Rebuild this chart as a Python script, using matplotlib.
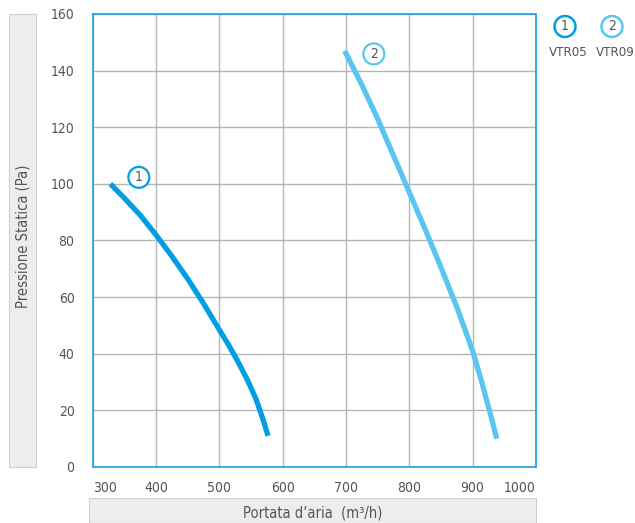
import matplotlib.pyplot as plt
from matplotlib.patches import Rectangle

plt.rcParams['font.family'] = ['DejaVu Sans']
plt.rcParams['font.stretch'] = 'condensed'

# Dati
x_vtr05 = [328, 350, 375, 400, 425, 450, 475, 500, 515, 530, 545, 558, 569, 577]
y_vtr05 = [100, 95, 89, 82, 74.5, 66.5, 57.8, 48.5, 43, 37, 30.5, 24, 16.8, 11]

x_vtr09 = [698, 725, 750, 775, 800, 825, 850, 875, 900, 915, 930, 938]
y_vtr09 = [147, 135, 123, 110, 97, 84, 70.5, 56.5, 41, 29.5, 17, 10]

names = ["VTR05", "VTR09"]
numbers = ["1", "2"]
colors = ["#009fe3", "#5bc5f1"]

x_ticks = [300, 400, 500, 600, 700, 800, 900, 1000]
y_ticks = [0, 20, 40, 60, 80, 100, 120, 140, 160]

fig = plt.figure(figsize=(6.35, 5.23), dpi=100)
ax = fig.add_axes([92.6 / 635, 1 - 467 / 523, (536 - 92.6) / 635, (467 - 14) / 523])

# bande grigie delle etichette
fig.patches.append(Rectangle((9 / 635, 1 - 467 / 523), 27 / 635, 453 / 523,
                             transform=fig.transFigure, facecolor="#ededed",
                             edgecolor="#cfcfcf", lw=0.8))
fig.patches.append(Rectangle((89 / 635, 0), 447 / 635, 25 / 523,
                             transform=fig.transFigure, facecolor="#ededed",
                             edgecolor="#cfcfcf", lw=0.8))

ax.plot(x_vtr05, y_vtr05, color=colors[0], lw=3.8, solid_capstyle="butt")
ax.plot(x_vtr09, y_vtr09, color=colors[1], lw=3.8, solid_capstyle="butt")

ax.set_xlim(300, 1000)
ax.set_ylim(0, 160)
ax.set_xticks(x_ticks)
ax.set_yticks(y_ticks)
ax.grid(color="#b5b5b5", lw=1.0)
ax.set_axisbelow(True)
for s in ax.spines.values():
    s.set_color("#1aa0e0")
    s.set_linewidth(1.2)
ax.tick_params(length=0, labelsize=10, labelcolor="#555555")
ax.tick_params(axis="y", pad=13)
ax.tick_params(axis="x", pad=10)
xl = ax.get_xticklabels()
xl[0].set_ha("left")
xl[-1].set_ha("right")

# numeri cerchiati sulle curve
ann_style = dict(fontsize=10, color="#555555", ha="center", va="center")
ax.text(373, 102.3, numbers[0], bbox=dict(boxstyle="circle,pad=0.25", fc="white",
                                           ec=colors[0], lw=1.6), **ann_style)
ax.text(744, 145.9, numbers[1], bbox=dict(boxstyle="circle,pad=0.25", fc="white",
                                           ec=colors[1], lw=1.6), **ann_style)

# legenda in alto a destra
for i, (xc, name) in enumerate(zip([565, 612], names)):
    fig.text(xc / 635, 1 - 26.5 / 523, numbers[i], bbox=dict(boxstyle="circle,pad=0.25",
             fc="white", ec=colors[i], lw=1.8), **ann_style)
    fig.text((xc + 3) / 635, 1 - 53 / 523, name, fontsize=9.5, color="#555555",
             ha="center", va="center")

fig.text(23 / 635, 1 - 236 / 523, "Pressione Statica (Pa)", rotation=90, fontsize=10.5,
         color="#555555", ha="center", va="center")
fig.text(313 / 635, 1 - 513 / 523, "Portata d’aria  (m³/h)", fontsize=10.5,
         color="#555555", ha="center", va="center")

fig.savefig("out.png", dpi=100)
